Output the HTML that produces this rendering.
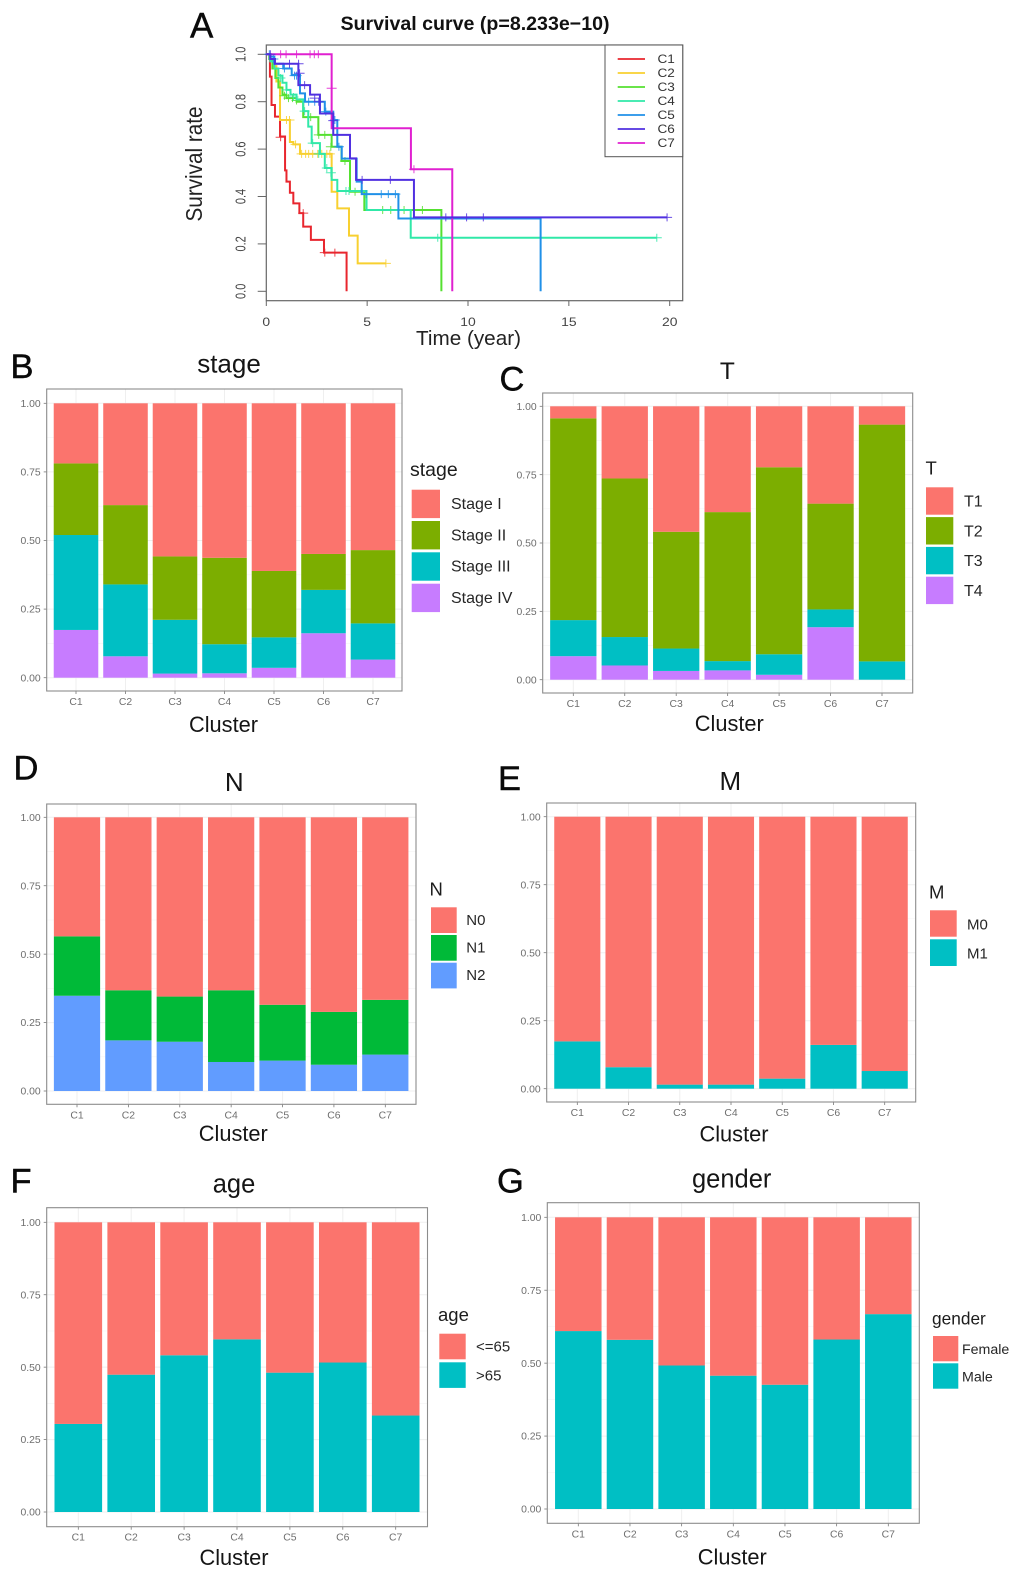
<!DOCTYPE html>
<html lang="en">
<head>
<meta charset="utf-8">
<title>Survival and clinical composition by cluster</title>
<style>
html,body{margin:0;padding:0;background:#fff;}
#figure{display:block;width:1020px;height:1572px;font-family:"Liberation Sans",Arial,sans-serif;}
.letter{font-size:34.5px;fill:#0a0a0a;stroke:#0a0a0a;stroke-width:0.4;}
.title{font-size:25.5px;fill:#151515;text-anchor:middle;}
.xt{font-size:21.8px;fill:#151515;text-anchor:middle;}
.lt{font-size:18.5px;fill:#1c1c1c;}
.ll{font-size:15px;fill:#262626;}
.tick{font-size:10.4px;fill:#6e6e6e;}
.aleg{font-size:11.6px;fill:#333;}
</style>
</head>
<body>
<svg id="figure" xmlns="http://www.w3.org/2000/svg" width="1020" height="1572" viewBox="0 0 1020 1572">
  <rect width="1020" height="1572" fill="#fff"/>

  <!-- Panel A -->
  <g id="panel-a">
    <text class="letter" x="190" y="37.5" style="font-size:35px">A</text>
    <text x="475" y="30" text-anchor="middle" font-weight="bold" font-size="19.6" fill="#111">Survival curve (p=8.233e−10)</text>
    <rect x="266.3" y="45" width="416.4" height="255.7" fill="#fff" stroke="#666" stroke-width="1.2"/>
    <g id="survival-axes"></g>
    <g id="survival-lines"></g>
    <text transform="translate(202,164) scale(1.1,1) rotate(-90)" text-anchor="middle" font-size="20.7" fill="#222">Survival rate</text>
    <text x="468.5" y="345" text-anchor="middle" font-size="20.7" fill="#222">Time (year)</text>
    <g>
      <rect x="605" y="45" width="77.7" height="111.7" fill="#fff" stroke="#555" stroke-width="1"/>
      <line x1="617.7" x2="645" y1="59" y2="59" stroke="#e8262e" stroke-width="1.7"/>
      <line x1="617.7" x2="645" y1="73" y2="73" stroke="#f8d030" stroke-width="1.7"/>
      <line x1="617.7" x2="645" y1="87" y2="87" stroke="#55e030" stroke-width="1.7"/>
      <line x1="617.7" x2="645" y1="101" y2="101" stroke="#30e8a8" stroke-width="1.7"/>
      <line x1="617.7" x2="645" y1="115" y2="115" stroke="#2090e8" stroke-width="1.7"/>
      <line x1="617.7" x2="645" y1="129" y2="129" stroke="#5030e0" stroke-width="1.7"/>
      <line x1="617.7" x2="645" y1="143" y2="143" stroke="#e020d0" stroke-width="1.7"/>
      <text class="aleg" transform="translate(657.5,63.2) scale(1.17,1)">C1</text>
      <text class="aleg" transform="translate(657.5,77.2) scale(1.17,1)">C2</text>
      <text class="aleg" transform="translate(657.5,91.2) scale(1.17,1)">C3</text>
      <text class="aleg" transform="translate(657.5,105.2) scale(1.17,1)">C4</text>
      <text class="aleg" transform="translate(657.5,119.2) scale(1.17,1)">C5</text>
      <text class="aleg" transform="translate(657.5,133.2) scale(1.17,1)">C6</text>
      <text class="aleg" transform="translate(657.5,147.2) scale(1.17,1)">C7</text>
    </g>
  </g>

  <!-- Panel B -->
  <g id="panel-b">
    <text class="letter" x="10.5" y="378">B</text>
    <text class="title" x="229" y="372.5" style="font-size:26px">stage</text>
    <text class="xt" x="223.5" y="732">Cluster</text>
    <text class="lt" x="410" y="476" style="font-size:19.5px">stage</text>
    <rect x="411.7" y="489.7" width="28.3" height="28.4" fill="#fb746d"/>
    <rect x="411.7" y="521" width="28.3" height="28.4" fill="#7cae00"/>
    <rect x="411.7" y="552.3" width="28.3" height="28.4" fill="#00bfc4"/>
    <rect x="411.7" y="583.7" width="28.3" height="28.4" fill="#c77cff"/>
    <text class="ll" x="451" y="509" style="font-size:16px">Stage I</text>
    <text class="ll" x="451" y="540.3" style="font-size:16px">Stage II</text>
    <text class="ll" x="451" y="571.6" style="font-size:16px">Stage III</text>
    <text class="ll" x="451" y="603" style="font-size:16px">Stage IV</text>
  </g>

  <!-- Panel C -->
  <g id="panel-c">
    <text class="letter" x="499.5" y="390.5">C</text>
    <text class="title" x="727.3" y="379" style="font-size:24.5px">T</text>
    <text class="xt" x="729.3" y="731">Cluster</text>
    <text class="lt" x="925.5" y="474.3">T</text>
    <rect x="926" y="487.3" width="27.3" height="27.4" fill="#fb746d"/>
    <rect x="926" y="517.1" width="27.3" height="27.4" fill="#7cae00"/>
    <rect x="926" y="546.9" width="27.3" height="27.4" fill="#00bfc4"/>
    <rect x="926" y="576.7" width="27.3" height="27.4" fill="#c77cff"/>
    <text class="ll" x="964" y="506.7" style="font-size:16px">T1</text>
    <text class="ll" x="964" y="536.3" style="font-size:16px">T2</text>
    <text class="ll" x="964" y="566" style="font-size:16px">T3</text>
    <text class="ll" x="964" y="596" style="font-size:16px">T4</text>
  </g>

  <!-- Panel D -->
  <g id="panel-d">
    <text class="letter" x="13.5" y="779.3">D</text>
    <text class="title" x="234.3" y="791" style="font-size:26px">N</text>
    <text class="xt" x="233.3" y="1141">Cluster</text>
    <text class="lt" x="429.5" y="895.5">N</text>
    <rect x="431" y="907.3" width="25.7" height="25.7" fill="#fb746d"/>
    <rect x="431" y="935" width="25.7" height="25.7" fill="#00ba38"/>
    <rect x="431" y="962.7" width="25.7" height="25.7" fill="#619cff"/>
    <text class="ll" x="466.3" y="925">N0</text>
    <text class="ll" x="466.3" y="952.5">N1</text>
    <text class="ll" x="466.3" y="980">N2</text>
  </g>

  <!-- Panel E -->
  <g id="panel-e">
    <text class="letter" x="498" y="790">E</text>
    <text class="title" x="730.3" y="790" style="font-size:26px">M</text>
    <text class="xt" x="734" y="1141.5">Cluster</text>
    <text class="lt" x="929" y="898.3">M</text>
    <rect x="930" y="910.3" width="26.7" height="26.4" fill="#fb746d"/>
    <rect x="930" y="939.3" width="26.7" height="26.7" fill="#00bfc4"/>
    <text class="ll" x="967" y="929.3">M0</text>
    <text class="ll" x="967" y="958.7">M1</text>
  </g>

  <!-- Panel F -->
  <g id="panel-f">
    <text class="letter" x="10.5" y="1192.3">F</text>
    <text class="title" x="234" y="1192.3">age</text>
    <text class="xt" x="234" y="1565">Cluster</text>
    <text class="lt" x="438" y="1321">age</text>
    <rect x="439.3" y="1333.7" width="26.4" height="25.6" fill="#fb746d"/>
    <rect x="439.3" y="1362.3" width="26.4" height="25.6" fill="#00bfc4"/>
    <text class="ll" x="476" y="1351.7">&lt;=65</text>
    <text class="ll" x="476" y="1380.3">&gt;65</text>
  </g>

  <!-- Panel G -->
  <g id="panel-g">
    <text class="letter" x="497" y="1192.3">G</text>
    <text class="title" x="731.7" y="1187.3">gender</text>
    <text class="xt" x="732.3" y="1564.7">Cluster</text>
    <text class="lt" x="932" y="1324.7" style="font-size:17.3px">gender</text>
    <rect x="933" y="1336" width="25.3" height="25.3" fill="#fb746d"/>
    <rect x="933" y="1363.3" width="25.3" height="25.4" fill="#00bfc4"/>
    <text class="ll" x="962" y="1354" style="font-size:14.2px">Female</text>
    <text class="ll" x="962" y="1381.3" style="font-size:14.2px">Male</text>
  </g>
</svg>

<script>
// ---- shared categories and tick labels ----
const clusters = ['C1','C2','C3','C4','C5','C6','C7'];
const shareTicks = [0, 0.25, 0.5, 0.75, 1];
const shareTickLabels = ['0.00','0.25','0.50','0.75','1.00'];
const survivalYTicks = [0, 0.2, 0.4, 0.6, 0.8, 1];
const survivalYLabels = ['0.0','0.2','0.4','0.6','0.8','1.0'];
const survivalXTicks = [0, 5, 10, 15, 20];

// ---- panel B: stage shares per cluster ----
const stageIV  = [0.174,0.078,0.015,0.016,0.036,0.162,0.066];
const stageIII = [0.346,0.262,0.196,0.106,0.111,0.158,0.132];
const stageII  = [0.261,0.289,0.231,0.315,0.242,0.131,0.267];
const stageI   = [0.219,0.371,0.558,0.563,0.611,0.549,0.535];

// ---- panel C: T shares ----
const t4 = [0.086,0.052,0.032,0.034,0.018,0.192,0];
const t3 = [0.132,0.104,0.082,0.034,0.075,0.065,0.067];
const t2 = [0.738,0.580,0.427,0.545,0.684,0.387,0.866];
const t1 = [0.044,0.264,0.459,0.387,0.223,0.356,0.067];

// ---- panel D: N shares ----
const n2 = [0.348,0.185,0.180,0.106,0.111,0.096,0.133];
const n1 = [0.217,0.183,0.165,0.262,0.204,0.193,0.200];
const n0 = [0.435,0.632,0.655,0.632,0.685,0.711,0.667];

// ---- panel E: M shares ----
const m1 = [0.174,0.079,0.015,0.015,0.037,0.161,0.065];
const m0 = [0.826,0.921,0.985,0.985,0.963,0.839,0.935];

// ---- panel F: age shares ----
const ageOver65  = [0.304,0.474,0.541,0.596,0.481,0.516,0.333];
const ageUnder65 = [0.696,0.526,0.459,0.404,0.519,0.484,0.667];

// ---- panel G: gender shares ----
const male   = [0.610,0.580,0.492,0.457,0.426,0.581,0.668];
const female = [0.390,0.420,0.508,0.543,0.574,0.419,0.332];

// ---- panel A: Kaplan-Meier steps (time in years, survival after the step) ----
const c1Times = [0,0.18,0.26,0.43,0.68,0.93,1.0,1.17,1.34,1.64,1.83,2.21,2.86,3.98];
const c1Surv  = [1,0.906,0.786,0.737,0.653,0.51,0.463,0.416,0.371,0.33,0.273,0.217,0.163,0];
const c1CensorTimes = [0.71,1.83,2.9,3.4];
const c1CensorSurv  = [0.65,0.33,0.163,0.163];

const c2Times = [0,0.15,0.35,0.5,0.68,1.17,1.34,1.67,3.24,3.52,4.1,4.53,5.93];
const c2Surv  = [1,0.98,0.95,0.885,0.723,0.63,0.62,0.58,0.42,0.35,0.235,0.118,0.118];
const c2CensorTimes = [1.0,1.15,1.45,1.75,1.95,2.1,2.3,2.55,2.75,3.0,3.15,5.93];
const c2CensorSurv  = [0.723,0.723,0.62,0.58,0.58,0.58,0.58,0.58,0.58,0.58,0.58,0.118];

const c3Times = [0,0.15,0.3,0.45,0.6,0.8,1.0,1.5,1.83,2.58,3.24,3.73,4.15,4.86,8.68];
const c3Surv  = [1,0.98,0.94,0.9,0.86,0.83,0.815,0.8,0.735,0.66,0.61,0.55,0.42,0.343,0];
const c3CensorTimes = [0.9,1.1,1.3,1.5,2.2,2.6,2.9,3.2,3.9,4.4,5.77,6.17,6.83,7.74];
const c3CensorSurv  = [0.825,0.815,0.815,0.805,0.735,0.66,0.66,0.61,0.55,0.42,0.343,0.343,0.343,0.343];

const c4Times = [0,0.2,0.4,0.6,0.8,1.0,1.2,1.5,1.83,2.08,2.25,2.66,2.9,3.24,3.52,4.97,7.16,19.36];
const c4Surv  = [1,0.97,0.94,0.91,0.88,0.85,0.83,0.81,0.76,0.695,0.625,0.58,0.52,0.47,0.423,0.343,0.226,0.226];
const c4CensorTimes = [0.7,1.0,1.35,1.9,2.3,2.6,3.0,3.2,3.95,4.1,8.5,19.36];
const c4CensorSurv  = [0.9,0.85,0.82,0.76,0.625,0.58,0.52,0.5,0.423,0.423,0.226,0.226];

const c5Times = [0,0.2,0.4,0.84,1.26,1.67,1.92,2.9,3.32,3.52,3.74,4.48,4.73,6.55,13.6];
const c5Surv  = [1,0.99,0.96,0.94,0.913,0.835,0.8,0.758,0.723,0.61,0.56,0.463,0.41,0.307,0];
const c5CensorTimes = [0.15,0.35,0.9,1.4,1.5,2.1,2.4,2.95,3.4,3.6,4.95,5.7,6.05,6.4];
const c5CensorSurv  = [1,0.98,0.94,0.91,0.91,0.8,0.8,0.758,0.723,0.61,0.41,0.41,0.41,0.41];

const c6Times = [0,0.2,0.43,1.59,2.17,2.66,3.32,4.15,4.45,7.32,19.87];
const c6Surv  = [1,0.98,0.96,0.87,0.83,0.75,0.66,0.561,0.47,0.312,0.312];
const c6CensorTimes = [0.2,1.15,1.6,1.65,1.9,2.4,2.6,3.32,4.75,6.15,8.9,9.93,10.76,19.87];
const c6CensorSurv  = [1,0.96,0.96,0.92,0.87,0.815,0.8,0.72,0.47,0.47,0.312,0.312,0.312,0.312];

const c7Times = [0,3.24,7.17,9.22];
const c7Surv  = [1,0.688,0.515,0];
const c7CensorTimes = [0.71,0.98,1.5,2.17,2.38,2.58,3.24,7.32,9.22];
const c7CensorSurv  = [1,1,1,1,1,1,0.857,0.515,0.312];

const SVGNS = 'http://www.w3.org/2000/svg';
function mk(tag, parent, attrs, text){
  const el = document.createElementNS(SVGNS, tag);
  for (const k in attrs) el.setAttribute(k, attrs[k]);
  if (text !== undefined) el.textContent = text;
  parent.appendChild(el);
  return el;
}

// ---- survival chart ----
const survX = t => 266.3 + t * (669.7 - 266.3) / 20;
const survY = s => 291.3 - s * (291.3 - 54.3);
const axesGroup = document.getElementById('survival-axes');
survivalYTicks.forEach((v, i) => {
  const tick = mk('line', axesGroup, {x1:257.7, x2:266.3, y1:survY(v), y2:survY(v), stroke:'#666', 'stroke-width':1});
  
  
  const label = mk('text', axesGroup, {transform:'translate(245.5,' + survY(v) + ') scale(1.3,1) rotate(-90)', 'text-anchor':'middle', 'font-size':11, fill:'#444'}, survivalYLabels[i]);
  
  
});
survivalXTicks.forEach(v => {
  const tick = mk('line', axesGroup, {x1:survX(v), x2:survX(v), y1:300.7, y2:306, stroke:'#666', 'stroke-width':1});
  
  
  const label = mk('text', axesGroup, {transform:'translate(' + survX(v) + ',326) scale(1.2,1)', 'text-anchor':'middle', 'font-size':11.6, fill:'#444'}, String(v));
  
  
});

function drawCurve(name, color, times, surv, censorTimes, censorSurv){
  const group = document.getElementById('survival-lines');
  let d = 'M' + survX(times[0]) + ' ' + survY(surv[0]);
  for (let i = 1; i < times.length; i++){
    d += 'H' + survX(times[i]) + 'V' + survY(surv[i]);
  }
  const line = mk('path', group, {d:d, fill:'none', stroke:color, 'stroke-width':2, 'stroke-linejoin':'miter'});
  
  
  censorTimes.forEach((t, i) => {
    const cx = survX(t), cy = survY(censorSurv[i]);
    const mark = mk('path', group, {d:'M' + (cx-5) + ' ' + cy + 'H' + (cx+5) + 'M' + cx + ' ' + (cy-4) + 'V' + (cy+4), stroke:color, 'stroke-width':1, fill:'none', opacity:0.85});
    
    
  });
}
drawCurve('c1', '#e8262e', c1Times, c1Surv, c1CensorTimes, c1CensorSurv);
drawCurve('c2', '#f8d030', c2Times, c2Surv, c2CensorTimes, c2CensorSurv);
drawCurve('c3', '#55e030', c3Times, c3Surv, c3CensorTimes, c3CensorSurv);
drawCurve('c4', '#30e8a8', c4Times, c4Surv, c4CensorTimes, c4CensorSurv);
drawCurve('c5', '#2090e8', c5Times, c5Surv, c5CensorTimes, c5CensorSurv);
drawCurve('c7', '#e020d0', c7Times, c7Surv, c7CensorTimes, c7CensorSurv);
drawCurve('c6', '#5030e0', c6Times, c6Surv, c6CensorTimes, c6CensorSurv);

// ---- stacked bar panels ----
function drawBars(panelId, prefix, frame, series){
  const panel = document.getElementById(panelId);
  const g = mk('g', panel, {});
  panel.insertBefore(g, panel.firstChild);
  const x = i => frame.c1 + (frame.c7 - frame.c1) * i / (clusters.length - 1);
  const y = v => frame.y0 + (frame.y1 - frame.y0) * v;
  const step = (frame.c7 - frame.c1) / (clusters.length - 1);

  const bg = mk('rect', g, {x:frame.l, y:frame.t, width:frame.r-frame.l, height:frame.b-frame.t, fill:'#fff'});
  
  

  for (let i = 0; i < shareTicks.length - 1; i++){
    const mid = (shareTicks[i] + shareTicks[i+1]) / 2;
    const minor = mk('line', g, {x1:frame.l, x2:frame.r, y1:y(mid), y2:y(mid), stroke:'#f6f6f6', 'stroke-width':0.7});
    
    
  }
  shareTicks.forEach((v, i) => {
    const grid = mk('line', g, {x1:frame.l, x2:frame.r, y1:y(v), y2:y(v), stroke:'#efefef', 'stroke-width':1});
    
    
    const tick = mk('line', g, {x1:frame.l-3, x2:frame.l, y1:y(v), y2:y(v), stroke:'#777', 'stroke-width':0.8});
    
    
    const label = mk('text', g, {class:'tick', x:frame.l-6, y:y(v)+3.6, 'text-anchor':'end'}, shareTickLabels[i]);
    
    
  });
  clusters.forEach((c, i) => {
    const grid = mk('line', g, {x1:x(i), x2:x(i), y1:frame.t, y2:frame.b, stroke:'#efefef', 'stroke-width':1});
    
    
    const tick = mk('line', g, {x1:x(i), x2:x(i), y1:frame.b, y2:frame.b+3, stroke:'#777', 'stroke-width':0.8});
    
    
    const label = mk('text', g, {class:'tick', x:x(i), y:frame.b+14, 'text-anchor':'middle'}, c);
    
    

    let base = 0;
    series.forEach(s => {
      const top = base + s.values[i];
      const rect = mk('rect', g, {x:x(i) - step*0.45, y:y(top), width:step*0.9, height:Math.max(0, y(base)-y(top)), fill:s.color});
      
      
      base = top;
    });
  });
  const border = mk('rect', g, {x:frame.l, y:frame.t, width:frame.r-frame.l, height:frame.b-frame.t, fill:'none', stroke:'#8c8c8c', 'stroke-width':1.1});
  
  
}

const RED = '#fb746d', OLIVE = '#7cae00', TEAL = '#00bfc4', PURPLE = '#c77cff', GREEN = '#00ba38', BLUE = '#619cff';

drawBars('panel-b', 'stage', {l:46.7, r:402, t:389, b:691, y0:677.7, y1:403.3, c1:76, c7:373}, [
  {name:'stage-iv', values:stageIV, color:PURPLE},
  {name:'stage-iii', values:stageIII, color:TEAL},
  {name:'stage-ii', values:stageII, color:OLIVE},
  {name:'stage-i', values:stageI, color:RED}
]);
drawBars('panel-c', 't', {l:542.7, r:912.7, t:393, b:693, y0:679.7, y1:406.3, c1:573.3, c7:882}, [
  {name:'t4', values:t4, color:PURPLE},
  {name:'t3', values:t3, color:TEAL},
  {name:'t2', values:t2, color:OLIVE},
  {name:'t1', values:t1, color:RED}
]);
drawBars('panel-d', 'n', {l:46.7, r:416, t:804, b:1104.3, y0:1091, y1:817.3, c1:77, c7:385.3}, [
  {name:'n2', values:n2, color:BLUE},
  {name:'n1', values:n1, color:GREEN},
  {name:'n0', values:n0, color:RED}
]);
drawBars('panel-e', 'm', {l:546.7, r:915.7, t:803, b:1102, y0:1088.7, y1:816.7, c1:577.3, c7:884.7}, [
  {name:'m1', values:m1, color:TEAL},
  {name:'m0', values:m0, color:RED}
]);
drawBars('panel-f', 'age', {l:46.7, r:427.5, t:1207.7, b:1526.7, y0:1512, y1:1222.3, c1:78.3, c7:395.7}, [
  {name:'over-65', values:ageOver65, color:TEAL},
  {name:'under-65', values:ageUnder65, color:RED}
]);
drawBars('panel-g', 'gender', {l:547.3, r:919.3, t:1202.7, b:1523.3, y0:1509, y1:1217.3, c1:578.3, c7:888.3}, [
  {name:'male', values:male, color:TEAL},
  {name:'female', values:female, color:RED}
]);
</script>
</body>
</html>
